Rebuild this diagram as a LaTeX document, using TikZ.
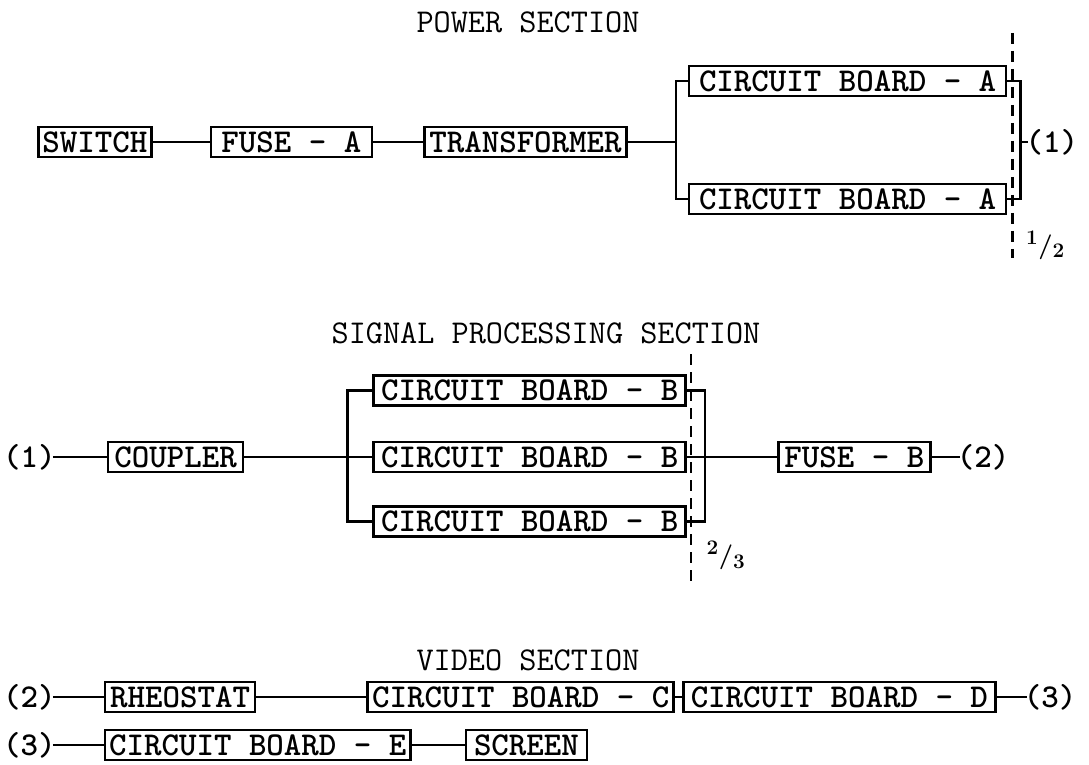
\documentclass[tikz,border=0pt]{standalone}
\usetikzlibrary{positioning}
\begin{document}
\begin{tikzpicture}[x=1pt,y=1pt, box/.style={draw,line width=2.6pt,minimum height=30pt,inner xsep=4pt,inner ysep=2pt,font=\fontsize{33.3}{36}\selectfont\ttfamily\bfseries}, tap/.style={inner xsep=-3pt,inner ysep=2pt,font=\fontsize{33.3}{36}\selectfont\ttfamily\bfseries}, head/.style={font=\fontsize{33.3}{36}\selectfont\ttfamily}, frac/.style={inner sep=0pt,font=\fontsize{28}{28}\selectfont\boldmath}, wire/.style={line width=2.4pt}, cutline/.style={line width=2.6pt,dash pattern=on 11pt off 7pt}]
\useasboundingbox (0,0) rectangle (1089,765);
% power section
\node[head] (hpower) at (528,743) {POWER SECTION};
\node[box,minimum width=113pt,anchor=west] (switch) at (37,623) {SWITCH};
\node[box,minimum width=161pt,right=57pt of switch] (fuseA) {FUSE - A};
\node[box,minimum width=202pt,right=50pt of fuseA] (transformer) {TRANSFORMER};
\node[box,minimum width=317pt,right=60pt of transformer,yshift=61pt] (boardA1) {CIRCUIT BOARD - A};
\node[box,minimum width=317pt,right=60pt of transformer,yshift=-57pt] (boardA2) {CIRCUIT BOARD - A};
\coordinate[left=12pt of boardA1.west] (inA);
\coordinate[right=13pt of boardA1.east] (outA);
\coordinate (midA) at (outA |- transformer);
\node[tap,right=8pt of midA] (tapA) {(1)};
\draw[wire] (switch)--(fuseA);\draw[wire] (fuseA)--(transformer);\draw[wire] (transformer)--(transformer -| inA);
\draw[wire] (boardA1.west)--(inA)|-(boardA2.west);\draw[wire] (boardA1.east)--(outA)|-(boardA2.east);\draw[wire] (midA)--(tapA);
\draw[cutline] ([xshift=5pt,yshift=48pt]boardA1.east)--([xshift=5pt,yshift=-59pt]boardA2.east);
\node[frac] (halfA) at ([xshift=38pt,yshift=-46pt]boardA2.east) {$^1/_2$};
% signal processing section
\node[head] (hsignal) at (546,432) {SIGNAL PROCESSING SECTION};
\node[tap,anchor=west] (tapB) at (6,308) {(1)};
\node[box,minimum width=135pt,right=54pt of tapB] (coupler) {COUPLER};
\node[box,minimum width=312pt,right=128pt of coupler] (boardB2) {CIRCUIT BOARD - B};
\node[box,minimum width=312pt,above=34pt of boardB2] (boardB1) {CIRCUIT BOARD - B};
\node[box,minimum width=312pt,below=32pt of boardB2] (boardB3) {CIRCUIT BOARD - B};
\coordinate[left=25pt of boardB2.west] (inB);
\coordinate[right=18pt of boardB2.east] (outB);
\node[box,minimum width=152pt,right=72pt of outB] (fuseB) {FUSE - B};
\node[tap,right=28pt of fuseB] (tapC) {(2)};
\draw[wire] (tapB)--(coupler);\draw[wire] (coupler)--(boardB2);\draw[wire] (boardB1.west)-|(inB)|-(boardB3.west);
\draw[wire] (boardB1.east)-|(outB)|-(boardB3.east);\draw[wire] (boardB2)--(fuseB);\draw[wire] (fuseB)--(tapC);
\draw[cutline] ([xshift=4pt,yshift=36pt]boardB1.east)--([xshift=4pt,yshift=-63pt]boardB3.east);
\node[frac] (twothirds) at ([xshift=39pt,yshift=-34pt]boardB3.east) {$^2/_3$};
% video section
\node[head] (hvideo) at (528,105) {VIDEO SECTION};
\node[tap,anchor=west] (tapD) at (6,68) {(2)};
\node[box,minimum width=150pt,right=51pt of tapD] (rheostat) {RHEOSTAT};
\node[box,minimum width=306pt,right=110pt of rheostat] (boardC) {CIRCUIT BOARD - C};
\node[box,minimum width=312pt,right=7pt of boardC] (boardD) {CIRCUIT BOARD - D};
\node[tap,right=30pt of boardD] (tapE) {(3)};
\node[tap,anchor=west] (tapF) at (6,20) {(3)};
\node[box,minimum width=297pt,right=51pt of tapF] (boardE) {CIRCUIT BOARD - E};
\node[box,minimum width=121pt,right=53pt of boardE] (screen) {SCREEN};
\draw[wire] (tapD)--(rheostat);\draw[wire] (rheostat)--(boardC);\draw[wire] (boardC)--(boardD);\draw[wire] (boardD)--(tapE);
\draw[wire] (tapF)--(boardE);\draw[wire] (boardE)--(screen);
\end{tikzpicture}
\end{document}
